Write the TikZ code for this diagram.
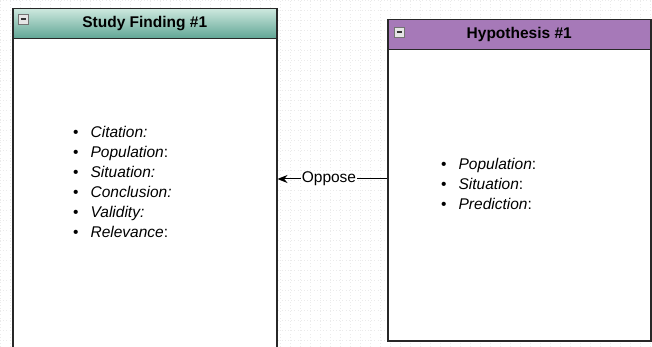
\documentclass[tikz,border=0pt]{standalone}
\usepackage{fontspec}
\setmainfont{Liberation Sans}
\usetikzlibrary{arrows.meta, positioning}
\definecolor{TealTop}   {RGB}{205, 232, 222}
\definecolor{TealBottom}{RGB}{ 95, 165, 148}
\definecolor{PurpleHead}{RGB}{166, 121, 184}
\definecolor{EdgeGray}  {RGB}{ 40,  40,  40}
\definecolor{GridGray}  {RGB}{235, 235, 235}

\begin{document}
\begin{tikzpicture}[
  x=1pt, y=-1pt,
  head/.style = {
    rectangle, anchor=north west,
    minimum height=30pt, inner sep=0pt,
    font=\fontsize{15.5}{18}\selectfont\bfseries,
    draw=EdgeGray, line width=1.5pt
  },
  body/.style = {
    rectangle, anchor=north west, inner sep=0pt,
    fill=white, draw=EdgeGray, line width=1.5pt
  },
  toggle/.style = {
    rectangle, minimum size=10pt, inner sep=0pt,
    fill=black!10, draw=black!55, line width=0.6pt,
    path picture={\draw[black!80, line width=1.3pt]
      ([xshift=2.5pt]path picture bounding box.west) --
      ([xshift=-2.5pt]path picture bounding box.east);}
  },
  items/.style = {
    anchor=north west, align=left, inner sep=0pt,
    font=\fontsize{15.5}{20}\selectfont
  },
  arrow/.style = {-{Stealth[length=10pt, width=8pt]}, line width=1pt, color=black}
]

\clip (0,0) rectangle (652,347);
\useasboundingbox (0,0) rectangle (652,347);

% faint grid of the canvas
\draw[GridGray, line width=0.4pt, dash pattern=on 0.6pt off 2.6pt]
  (0,0) grid[step=10pt] (652,347);

% Study Finding
\node[body, minimum width=264pt, minimum height=330pt] (findbody) at (12,38) {};
\node[head, minimum width=264pt, top color=TealTop, bottom color=TealBottom]
  (findhead) at (12,8) {Study Finding \#1};
\node[toggle] (findtoggle) at (23,19) {};
\node[items] (finditems) at (73,126) {%
  \textbullet\hspace{12pt}\textit{Citation:}\\
  \textbullet\hspace{12pt}\textit{Population}:\\
  \textbullet\hspace{12pt}\textit{Situation:}\\
  \textbullet\hspace{12pt}\textit{Conclusion:}\\
  \textbullet\hspace{12pt}\textit{Validity:}\\
  \textbullet\hspace{12pt}\textit{Relevance}:};

% Hypothesis
\node[body, minimum width=263pt, minimum height=291pt] (hypbody) at (387,49) {};
\node[head, minimum width=263pt, fill=PurpleHead]
  (hyphead) at (387,19) {Hypothesis \#1};
\node[toggle] (hyptoggle) at (399,32) {};
\node[items] (hypitems) at (441,158) {%
  \textbullet\hspace{12pt}\textit{Population}:\\
  \textbullet\hspace{12pt}\textit{Situation}:\\
  \textbullet\hspace{12pt}\textit{Prediction}:};

% Oppose link
\draw[arrow] (hypbody.west |- 0,179) -- node[fill=white, inner sep=1pt,
  font=\fontsize{15.5}{18}\selectfont, pos=0.53] {Oppose} (findbody.east |- 0,179);

\end{tikzpicture}
\end{document}
